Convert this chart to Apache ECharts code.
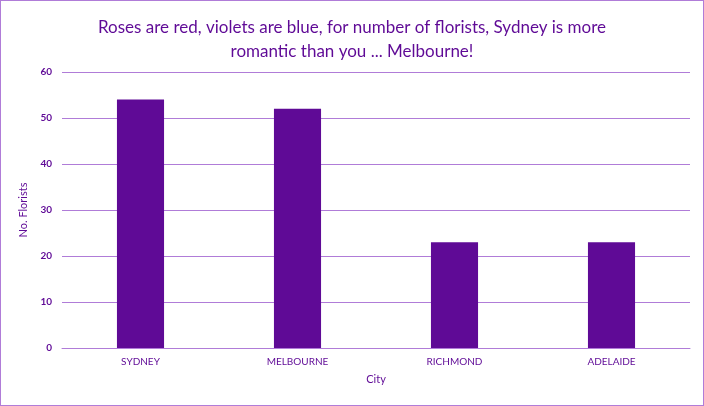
<!DOCTYPE html>
<html><head><meta charset="utf-8">
<script src="https://cdn.jsdelivr.net/npm/echarts@6/dist/echarts.min.js"></script>
<style>html,body{margin:0;padding:0;background:#fff}#c{width:702px;height:404px;border:1px solid #B07CD8}</style>
</head><body><div id="c"></div>
<script>
const categories = ['SYDNEY','MELBOURNE','RICHMOND','ADELAIDE'];
const florists = [54, 52, 23, 23];
const purple = '#5F0A96';
const chart = echarts.init(document.getElementById('c'));
chart.setOption({
  animation:false,
  textStyle:{fontFamily:'Lato'},
  title:{text:'Roses are red, violets are blue, for number of florists, Sydney is more\nromantic than you ... Melbourne!',
    left:'center',top:10,textStyle:{color:purple,fontSize:17,fontWeight:'normal',lineHeight:24,fontFamily:'Lato'}},
  grid:{left:61,right:13,top:71,bottom:57},
  xAxis:{type:'category',data:categories,name:'City',nameLocation:'middle',nameGap:26,
    nameTextStyle:{color:purple,fontSize:11},
    axisLine:{lineStyle:{color:'#B07CD8'}},axisTick:{show:false},
    axisLabel:{color:purple,fontSize:10,margin:9}},
  yAxis:{type:'value',min:0,max:60,interval:10,name:'No. Florists',nameLocation:'middle',nameGap:33,
    nameTextStyle:{color:purple,fontSize:11},
    axisLabel:{color:purple,fontSize:10,fontWeight:'bold',margin:10},
    splitLine:{lineStyle:{color:'#B07CD8'}}},
  series:[{type:'bar',data:florists,barWidth:'30%',itemStyle:{color:purple}}]
});
</script></body></html>
